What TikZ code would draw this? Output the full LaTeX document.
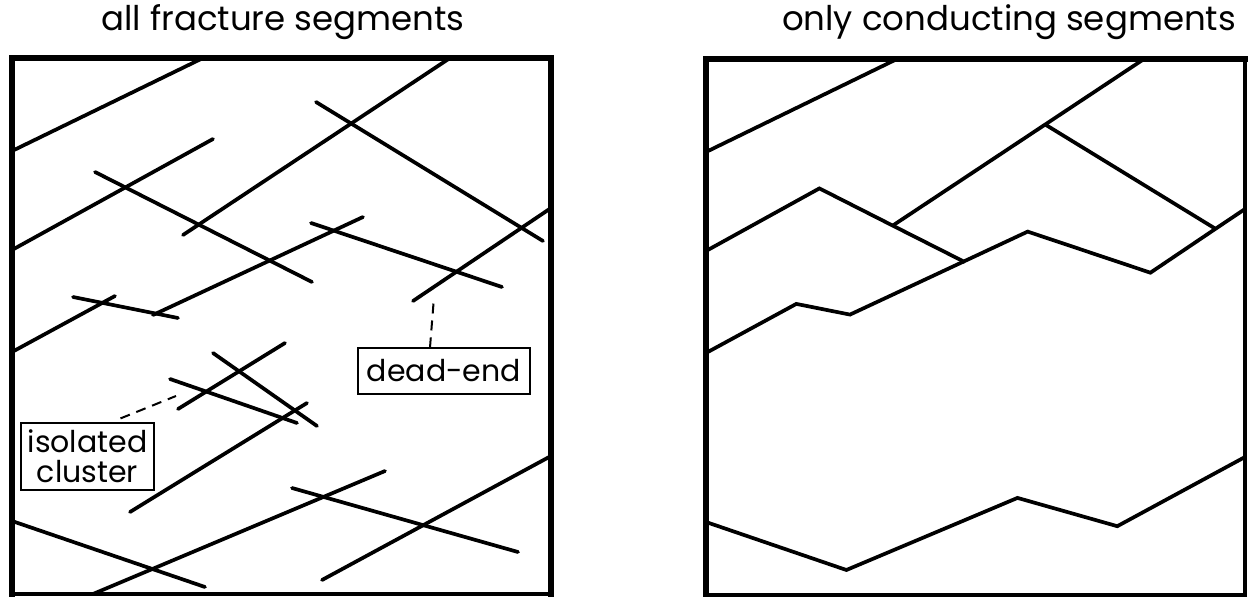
\documentclass[tikz,border=0pt]{standalone}
\usepackage{fontspec}
\setmainfont{Poppins}
\begin{document}
\begin{tikzpicture}[x=1pt,y=-1pt,
  frac/.style={line width=3.7pt, line cap=round, line join=miter},
  lblbox/.style={draw, line width=1.2pt, inner sep=0pt, align=center,
    font=\fontsize{30}{30}\selectfont},
  leader/.style={line width=2pt, dash pattern=on 10pt off 7pt},
  ttl/.style={font=\fontsize{34}{36}\selectfont, inner sep=0pt}]
\useasboundingbox (0,0) rectangle (1248,597);

% titles
\node[ttl] (t1) at (283,22) {all fracture segments};
\node[ttl] (t2) at (1009,22) {only conducting segments};

% ---------- left panel: all fracture segments ----------
\draw[frac] (12,151) -- (203,58);
\draw[frac] (12,250) -- (213,139);
\draw[frac] (95,172) -- (312,282);
\draw[frac] (183,235) -- (450,58);
\draw[frac] (316,102) -- (543,241);
\draw[frac] (413,301) -- (551,208);
\draw[frac] (311,223) -- (502,287);
\draw[frac] (153,315) -- (363,217);
\draw[frac] (73,297) -- (178,318);
\draw[frac] (12,352) -- (115,296);
\draw[frac] (213,353) -- (317,426);
\draw[frac] (178,409) -- (285,343);
\draw[frac] (170,379) -- (297,423);
\draw[frac] (130,512) -- (307,403);
\draw[frac] (12,521) -- (205,587);
\draw[frac] (93,594) -- (385,471);
\draw[frac] (292,488) -- (518,552);
\draw[frac] (322,580) -- (551,456);

% labels
\node[lblbox, minimum width=172pt, minimum height=46pt] (dead) at (444,371) {dead-end};
\coordinate (deadtip) at (434,297);
\draw[leader] ([xshift=-14pt]dead.north) -- (deadtip);

\node[lblbox, minimum width=133pt, minimum height=67pt] (iso) at (87.5,456.5) {isolated\\cluster};
\coordinate (isotip) at (176,396);
\draw[leader] ([xshift=33pt,yshift=4pt]iso.north) -- (isotip);

% frame left
\draw[line width=6.5pt, line cap=rect] (12,594) -- (12,58) -- (551,58);
\draw[line width=5.5pt, line cap=rect] (551,58) -- (551,594);
\draw[line width=4pt, line cap=rect] (551,594) -- (12,594);

% ---------- right panel: only conducting segments ----------
\draw[frac] (706,152) -- (897,59);
\draw[frac] (706,251) -- (819.4,188.4) -- (892.7,225.6) -- (963.7,261.5)
  -- (1027.7,231.6) -- (1150.4,272.7) -- (1215.5,228.8) -- (1245,209);
\draw[frac] (892.7,225.6) -- (1045.2,124.5) -- (1144,59);
\draw[frac] (1045.2,124.5) -- (1215.5,228.8);
\draw[frac] (706,353) -- (796.3,303.9) -- (850,314.6) -- (963.7,261.5);
\draw[frac] (706,522) -- (846.4,570) -- (1017.5,497.9) -- (1117.3,526.2) -- (1245,457);

% frame right
\draw[line width=6.5pt, line cap=rect] (706,595) -- (706,59) -- (1245,59);
\draw[line width=4.5pt, line cap=rect] (1245,59) -- (1245,595);
\draw[line width=3.5pt, line cap=rect] (1245,595) -- (706,595);
\end{tikzpicture}
\end{document}
